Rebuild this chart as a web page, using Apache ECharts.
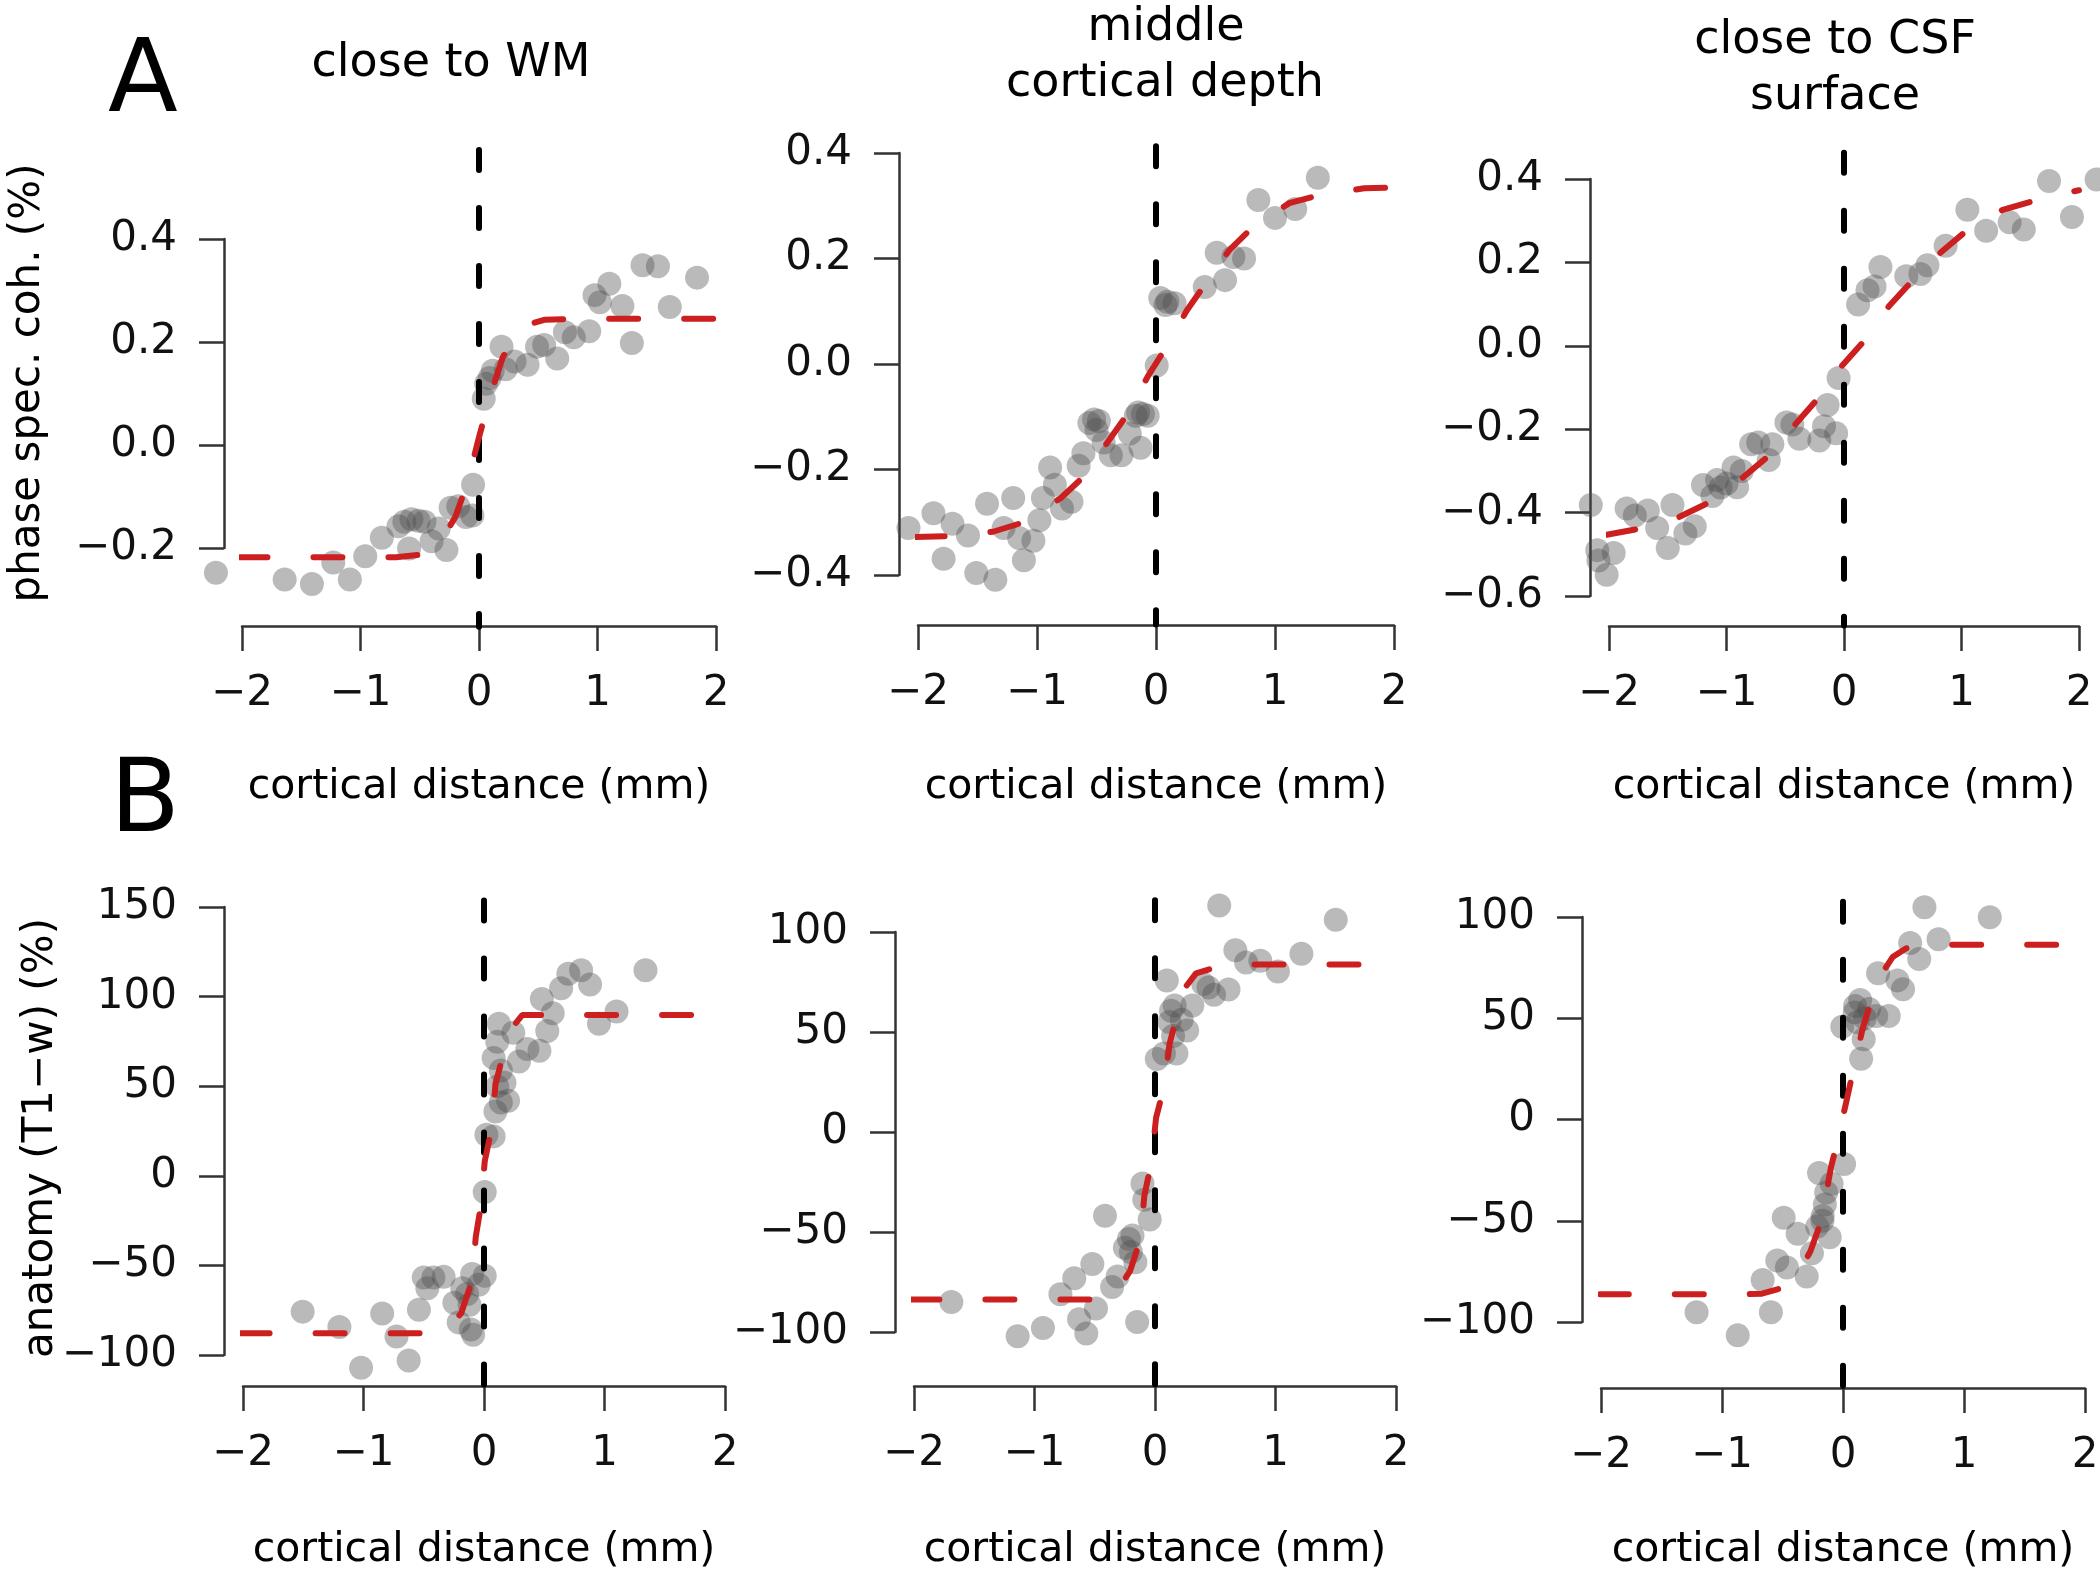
<!DOCTYPE html>
<html><head><meta charset="utf-8">
<script src="https://cdn.jsdelivr.net/npm/echarts@6/dist/echarts.min.js"></script>
<style>html,body{margin:0;padding:0;background:#fff}#c{width:2100px;height:1578px}</style>
</head><body><div id="c"></div>
<script>
// ---------- data ----------
const xTicks = [-2, -1, 0, 1, 2];
const a1YTicks = [-0.2, 0, 0.2, 0.4];
const a2YTicks = [-0.4, -0.2, 0, 0.2, 0.4];
const a3YTicks = [-0.6, -0.4, -0.2, 0, 0.2, 0.4];
const b1YTicks = [-100, -50, 0, 50, 100, 150];
const b2YTicks = [-100, -50, 0, 50, 100];
const b3YTicks = [-100, -50, 0, 50, 100];

const panelTitles = [["close to WM"], ["middle", "cortical depth"], ["close to CSF", "surface"]];
const xTitle = "cortical distance (mm)";
const yTitleA = "phase spec. coh. (%)";
const yTitleB = "anatomy (T1\u2212w) (%)";

const a1Points = [[-2.22,-0.248],[-1.64,-0.261],[-1.41,-0.270],[-1.23,-0.228],[-1.09,-0.261],[-0.96,-0.216],[-0.82,-0.180],[-0.68,-0.158],[-0.63,-0.149],[-0.57,-0.144],[-0.51,-0.147],[-0.46,-0.149],[-0.59,-0.201],[-0.40,-0.187],[-0.34,-0.162],[-0.275,-0.204],[-0.24,-0.122],[-0.175,-0.119],[-0.11,-0.140],[-0.056,-0.137],[-0.05,-0.077],[0.04,0.090],[0.06,0.119],[0.09,0.13],[0.116,0.144],[0.19,0.191],[0.225,0.147],[0.30,0.162],[0.41,0.156],[0.49,0.191],[0.55,0.194],[0.66,0.168],[0.725,0.219],[0.80,0.209],[0.93,0.221],[0.975,0.291],[1.02,0.277],[1.10,0.313],[1.21,0.270],[1.29,0.198],[1.38,0.349],[1.51,0.347],[1.61,0.268],[1.84,0.325]];
const a1Fit = [[-2.03,-0.218],[-0.7,-0.218],[-0.5,-0.213],[-0.4,-0.2],[-0.3,-0.178],[-0.2,-0.14],[-0.1,-0.075],[0,0.015],[0.1,0.1],[0.2,0.17],[0.3,0.21],[0.4,0.233],[0.55,0.243],[0.8,0.245],[2.03,0.245]];
const a1VLine = [0.573, -0.353];

const a2Points = [[-2.08,-0.311],[-1.87,-0.283],[-1.71,-0.303],[-1.58,-0.325],[-1.785,-0.369],[-1.51,-0.396],[-1.42,-0.265],[-1.35,-0.409],[-1.28,-0.311],[-1.20,-0.254],[-1.15,-0.330],[-1.11,-0.372],[-1.03,-0.335],[-0.98,-0.296],[-0.95,-0.254],[-0.89,-0.196],[-0.85,-0.229],[-0.79,-0.274],[-0.71,-0.261],[-0.65,-0.193],[-0.61,-0.169],[-0.56,-0.112],[-0.52,-0.105],[-0.50,-0.125],[-0.48,-0.108],[-0.44,-0.149],[-0.38,-0.173],[-0.29,-0.173],[-0.22,-0.132],[-0.17,-0.098],[-0.15,-0.092],[-0.11,-0.095],[-0.07,-0.098],[-0.13,-0.159],[0.006,-0.003],[0.036,0.125],[0.08,0.112],[0.096,0.118],[0.156,0.115],[0.41,0.146],[0.51,0.211],[0.58,0.159],[0.65,0.203],[0.74,0.200],[0.86,0.311],[1.00,0.277],[1.17,0.294],[1.36,0.353]];
const a2Fit = [[-2.02,-0.328],[-1.7,-0.326],[-1.37,-0.318],[-1.11,-0.30],[-0.8,-0.254],[-0.6,-0.212],[-0.4,-0.146],[-0.24,-0.095],[-0.07,-0.024],[0.08,0.03],[0.26,0.102],[0.41,0.15],[0.62,0.217],[0.82,0.261],[1.12,0.305],[1.39,0.321],[1.75,0.333],[2.03,0.335]];
const a2VLine = [0.413, -0.494];

const a3Points = [[-2.155,-0.382],[-2.09,-0.515],[-2.1,-0.49],[-2.02,-0.549],[-1.96,-0.497],[-1.85,-0.390],[-1.78,-0.407],[-1.67,-0.395],[-1.59,-0.437],[-1.50,-0.485],[-1.46,-0.382],[-1.35,-0.450],[-1.27,-0.433],[-1.20,-0.334],[-1.12,-0.360],[-1.08,-0.322],[-1.05,-0.34],[-1.00,-0.330],[-0.94,-0.292],[-0.91,-0.339],[-0.87,-0.30],[-0.79,-0.236],[-0.73,-0.232],[-0.64,-0.274],[-0.61,-0.236],[-0.49,-0.184],[-0.44,-0.189],[-0.38,-0.223],[-0.21,-0.227],[-0.17,-0.193],[-0.14,-0.142],[-0.067,-0.210],[-0.046,-0.077],[0.12,0.099],[0.20,0.133],[0.26,0.142],[0.31,0.189],[0.53,0.167],[0.65,0.172],[0.71,0.193],[0.865,0.240],[1.05,0.326],[1.21,0.276],[1.41,0.296],[1.53,0.279],[1.745,0.395],[1.94,0.309],[2.15,0.399]];
const a3Fit = [[-2.02,-0.453],[-1.71,-0.437],[-1.4,-0.41],[-1.15,-0.376],[-0.865,-0.317],[-0.65,-0.266],[-0.41,-0.187],[-0.23,-0.129],[-0.015,-0.047],[0.167,0.01],[0.38,0.094],[0.59,0.159],[0.82,0.223],[1.03,0.273],[1.35,0.326],[1.61,0.347],[1.8,0.362],[2.0,0.373]];
const a3VLine = [0.463, -0.671];

const b1Points = [[-1.505,-75.8],[-1.20,-84.4],[-1.02,-107.1],[-0.845,-76.8],[-0.726,-89.7],[-0.625,-103.1],[-0.54,-74.8],[-0.50,-56.8],[-0.42,-56.8],[-0.47,-62.8],[-0.335,-56.4],[-0.246,-70.8],[-0.21,-81.8],[-0.18,-62.8],[-0.14,-66],[-0.12,-72],[-0.098,-54.8],[-0.11,-85.8],[-0.09,-88.7],[-0.044,-60.8],[0.006,-55.8],[0.006,-9.0],[0.02,22.9],[0.08,22],[0.095,35.9],[0.14,40.9],[0.20,41.9],[0.11,49.9],[0.17,51.9],[0.14,58.8],[0.08,65.8],[0.11,74.8],[0.124,84.8],[0.243,79.8],[0.29,63.8],[0.36,70.8],[0.46,69.8],[0.525,80.8],[0.48,98.7],[0.57,90.7],[0.64,104.7],[0.70,112.7],[0.806,114.7],[0.88,106.7],[0.954,84.8],[1.10,91.7],[1.34,114.7]];
const b1Fit = [[-2.02,-87.8],[-0.5,-87.8],[-0.3,-85],[-0.19,-76.8],[-0.1,-58.8],[-0.068,-33.9],[-0.024,-16],[0.006,8],[0.065,26.9],[0.095,50.9],[0.163,68.8],[0.25,84],[0.317,89.7],[1.95,89.7]];
const b1VLine = [153.6, -117.7];

const b2Points = [[-1.69,-85.0],[-1.14,-102.1],[-0.93,-98.0],[-0.785,-81.1],[-0.67,-73.1],[-0.63,-93.6],[-0.57,-100.7],[-0.52,-66.0],[-0.49,-88.2],[-0.415,-41.9],[-0.356,-77.5],[-0.31,-72.2],[-0.25,-57.9],[-0.216,-53.5],[-0.2,-60],[-0.187,-51.7],[-0.163,-65.1],[-0.148,-95.0],[-0.104,-25.8],[-0.089,-33.9],[-0.044,-43.7],[0.015,36.5],[0.074,39.2],[0.098,75.8],[0.12,55],[0.133,60.6],[0.15,48],[0.163,63.3],[0.178,39.2],[0.222,56.1],[0.267,50.8],[0.31,63.3],[0.40,74.0],[0.444,72.2],[0.49,68.6],[0.61,71.3],[0.533,113.2],[0.667,90.9],[0.756,84.7],[0.874,85.6],[1.02,80.2],[1.215,89.1],[1.50,106.1]];
const b2Fit = [[-2.03,-83.8],[-0.46,-83.8],[-0.32,-80],[-0.207,-69.5],[-0.12,-53.5],[-0.089,-32.1],[-0.03,-15.2],[0.009,7.1],[0.074,22.3],[0.12,43.7],[0.19,60.6],[0.26,73],[0.34,79.3],[0.59,83.8],[1.95,83.8]];
const b2VLine = [115.9, -126.6];

const b3Points = [[-1.21,-95.2],[-0.87,-106.6],[-0.664,-79.3],[-0.596,-95.2],[-0.543,-69.6],[-0.49,-48.5],[-0.463,-73.1],[-0.375,-56.4],[-0.30,-77.5],[-0.257,-66.1],[-0.213,-52.9],[-0.17,-50],[-0.168,-47.6],[-0.15,-42],[-0.198,-26.4],[-0.139,-36.1],[-0.094,-31.7],[-0.11,-58.1],[0.009,-22.0],[-0.006,45.8],[0.097,52.9],[0.1,56],[0.12,48],[0.142,59.0],[0.171,39.6],[0.18,50],[0.15,30.0],[0.215,54.6],[0.275,51.1],[0.29,72.2],[0.378,51.1],[0.45,68.7],[0.496,64.3],[0.555,87.2],[0.63,79.3],[0.673,104.8],[0.79,89.0],[1.213,99.9]];
const b3Fit = [[-2.01,-86.3],[-0.8,-86.3],[-0.67,-86.0],[-0.48,-82.8],[-0.37,-76],[-0.27,-65.2],[-0.18,-50.2],[-0.1,-23.8],[-0.056,-13.2],[0.024,7.9],[0.083,23.8],[0.162,44.9],[0.245,60.8],[0.32,72],[0.41,80.2],[0.52,84.5],[0.66,86.3],[1.96,86.3]];
const b3VLine = [107.5, -132.5];

// ---------- layout / style ----------
const FONT = '"DejaVu Sans", sans-serif';
const panels = [
  {pts:a1Points, fit:a1Fit, vline:a1VLine, yTicks:a1YTicks, dec:1},
  {pts:a2Points, fit:a2Fit, vline:a2VLine, yTicks:a2YTicks, dec:1},
  {pts:a3Points, fit:a3Fit, vline:a3VLine, yTicks:a3YTicks, dec:1},
  {pts:b1Points, fit:b1Fit, vline:b1VLine, yTicks:b1YTicks, dec:0},
  {pts:b2Points, fit:b2Fit, vline:b2VLine, yTicks:b2YTicks, dec:0},
  {pts:b3Points, fit:b3Fit, vline:b3VLine, yTicks:b3YTicks, dec:0}
];
const layout = [
  {left:242, top:239, width:474, height:309, xOff:78, yOff:18},
  {left:918, top:153, width:476, height:422, xOff:50, yOff:19},
  {left:1609, top:179, width:470, height:417, xOff:30, yOff:19},
  {left:243, top:907, width:482, height:448, xOff:31, yOff:19},
  {left:914, top:932, width:482, height:400, xOff:54, yOff:19},
  {left:1601, top:917, width:484, height:405, xOff:66, yOff:19}
];
const AX = '#333333';
const TICK_FS = 42;
function fmt(v, dec) {
  const r = Math.abs(v) < 1e-9 ? 0 : v;
  return (r < 0 ? '\u2212' : '') + Math.abs(r).toFixed(dec);
}

const grid = [], xAxis = [], yAxis = [], series = [];
panels.forEach((p, i) => {
  const L = layout[i];
  grid.push({left:L.left, top:L.top, width:L.width, height:L.height, containLabel:false, outerBoundsMode:'none'});
  xAxis.push({
    type:'value', gridIndex:i, min:xTicks[0], max:xTicks[xTicks.length-1], interval:xTicks[1]-xTicks[0],
    offset:L.xOff, position:'bottom',
    axisLine:{show:true, onZero:false, lineStyle:{color:AX, width:2.5}},
    axisTick:{show:true, inside:false, length:25, lineStyle:{color:AX, width:2.5}},
    axisLabel:{show:true, margin:47, fontSize:TICK_FS, fontFamily:FONT, color:'#111', showMinLabel:true, showMaxLabel:true,
      formatter:v => fmt(v, 0)},
    splitLine:{show:false}
  });
  yAxis.push({
    type:'value', gridIndex:i, min:p.yTicks[0], max:p.yTicks[p.yTicks.length-1], interval:p.yTicks[1]-p.yTicks[0],
    offset:L.yOff, position:'left',
    axisLine:{show:true, onZero:false, lineStyle:{color:AX, width:2.5}},
    axisTick:{show:true, inside:false, length:25, lineStyle:{color:AX, width:2.5}},
    axisLabel:{show:true, margin:47, fontSize:TICK_FS, fontFamily:FONT, color:'#111', showMinLabel:true, showMaxLabel:true,
      formatter:v => fmt(v, p.dec)},
    splitLine:{show:false}
  });
  series.push({type:'scatter', xAxisIndex:i, yAxisIndex:i, data:p.pts, symbol:'circle', symbolSize:24,
    itemStyle:{color:'rgba(80,80,80,0.49)', borderWidth:0}, clip:false, silent:true, z:2});
  series.push({type:'line', xAxisIndex:i, yAxisIndex:i, data:[[0, p.vline[0]], [0, p.vline[1]]],
    symbol:'none', showSymbol:false, lineStyle:{color:'#000', width:6, type:[20, 38], cap:'round'}, clip:false, silent:true, z:3});
  series.push({type:'line', xAxisIndex:i, yAxisIndex:i, data:p.fit,
    symbol:'none', showSymbol:false, lineStyle:{color:'#CC1F1F', width:6, type:[29, 46], cap:'round'}, clip:false, silent:true, z:4});
});

function txt(t, x, y, size, rot) {
  return {type:'text', x:x, y:y, rotation:rot || 0, silent:true,
    style:{text:t, font:size + 'px ' + FONT, fill:'#000', align:'center', verticalAlign:'middle',
      textAlign:'center', textVerticalAlign:'middle'}};
}
const graphic = [
  txt('A', 143, 84, 102), txt('B', 145, 804, 102),
  txt(panelTitles[0][0], 451, 64, 46),
  txt(panelTitles[1][0], 1166, 28, 46), txt(panelTitles[1][1], 1165, 84, 46),
  txt(panelTitles[2][0], 1835, 41, 46), txt(panelTitles[2][1], 1835, 97, 46),
  txt(xTitle, 479, 787, 41), txt(xTitle, 1156, 787, 41), txt(xTitle, 1844, 787, 41),
  txt(xTitle, 484, 1550, 41), txt(xTitle, 1155, 1550, 41), txt(xTitle, 1843, 1550, 41),
  txt(yTitleA, 28, 383, 42, Math.PI/2), txt(yTitleB, 41, 1138, 42, Math.PI/2)
];

const chart = echarts.init(document.getElementById('c'), null, {renderer:'canvas'});
chart.setOption({animation:false, backgroundColor:'#fff', grid, xAxis, yAxis, series, graphic});
</script></body></html>
